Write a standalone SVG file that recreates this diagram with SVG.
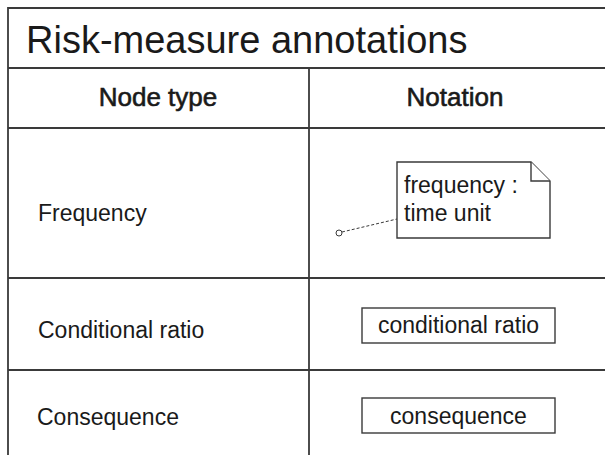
<svg xmlns="http://www.w3.org/2000/svg" width="605" height="455" viewBox="0 0 605 455">
<style>
.grid{stroke:#3a3a3a;stroke-width:1.8;fill:none}
.box{stroke:#3a3a3a;stroke-width:1.4;fill:#fff}
text{font-family:"Liberation Sans",Arial,sans-serif;fill:#1a1a1a}
.title{font-size:38px}
.head{font-size:26px;stroke:#1a1a1a;stroke-width:0.6}
.lbl{font-size:23px}
</style>
<rect width="605" height="455" fill="#fff"/>
<g id="table">
<path class="grid" d="M8,455 V8 H605 M8,68 H605 M8,128 H605 M309,68 V455 M8,278 H605 M8,370 H605"/>
<text class="title" x="26" y="53">Risk-measure annotations</text>
<text class="head" x="158" y="106" text-anchor="middle">Node type</text>
<text class="head" x="455" y="106" text-anchor="middle">Notation</text>
</g>
<g id="frequency-row">
<text class="lbl" x="38" y="221">Frequency</text>
</g>
<g id="conditional-row">
<text class="lbl" x="38" y="338">Conditional ratio</text>
</g>
<g id="consequence-row">
<text class="lbl" x="37" y="425">Consequence</text>
</g>
<g id="note-frequency">
<path class="box" d="M397,162 H531 L550,181 V238 H397 Z"/>
<path class="box" d="M531,162 V181 H550" fill="none"/>
<text class="lbl" x="404" y="193">frequency :</text>
<text class="lbl" x="404" y="221">time unit</text>
</g>
<g id="box-conditional">
<rect class="box" x="362" y="308" width="193" height="35"/>
<text class="lbl" x="458.5" y="333" text-anchor="middle">conditional ratio</text>
</g>
<g id="box-consequence">
<rect class="box" x="362" y="398" width="193" height="35"/>
<text class="lbl" x="458.5" y="424" text-anchor="middle">consequence</text>
</g>
<g id="connectors">
<line x1="342" y1="232" x2="397" y2="219" stroke="#3a3a3a" stroke-width="1" stroke-dasharray="3,2"/>
<circle cx="339" cy="233" r="3" fill="#fff" stroke="#3a3a3a" stroke-width="1"/>
</g>
</svg>
